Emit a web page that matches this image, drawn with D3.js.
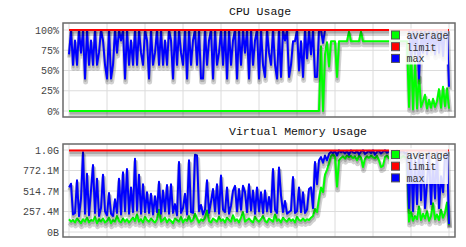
<!DOCTYPE html>
<html>
<head>
<meta charset="utf-8">
<script src="https://cdnjs.cloudflare.com/ajax/libs/d3/7.8.5/d3.min.js"></script>
<style>
  body { margin: 0; background: #fff; }
  svg { display: block; font-family: "Liberation Mono", "DejaVu Sans Mono", monospace; }
</style>
</head>
<body>
<svg id="chart" width="466" height="247"></svg>
<script>
// legend order
const seriesNames = ['average', 'limit', 'max'];

const cpuTicks = [0, 25, 50, 75, 100];
const cpuTickLabels = ['0%', '25%', '50%', '75%', '100%'];
const cpuLimit = 100;

// percent, one sample per time step
const cpuAverage = [
  0, 0, 0, 0, 0, 0, 0, 0, 0, 0,
  0, 0, 0, 0, 0, 0, 0, 0, 0, 0,
  0, 0, 0, 0, 0, 0, 0, 0, 0, 0,
  0, 0, 0, 0, 0, 0, 0, 0, 0, 0,
  0, 0, 0, 0, 0, 0, 0, 0, 0, 0,
  0, 0, 0, 0, 0, 0, 0, 0, 0, 0,
  0, 0, 0, 0, 0, 0, 0, 0, 0, 0,
  0, 0, 0, 0, 0, 0, 0, 0, 0, 0,
  0, 0, 0, 0, 0, 0, 0, 0, 0, 0,
  0, 0, 0, 0, 0, 0, 0, 0, 0, 0,
  0, 0, 0, 0, 0, 0, 0, 0, 0, 0,
  0, 0, 0, 0, 0, 0, 0, 0, 0, 0,
  0, 0, 0, 0, 0, 0, 80, 0, 70, 85,
  55, 86, 86, 86, 42, 86, 86, 86, 86, 86,
  98, 86, 86, 86, 86, 86, 98, 86, 86, 86,
  86, 86, 86, 86, 86, 86, 86, 86, 86, 86,
  86, 86, 86, 86, 86, 86, 86, 86, 86, 86,
  5, 80, 2, 60, 3, 45, 5, 12, 20, 3,
  14, 4, 15, 5, 12, 27, 4, 30, 6, 28, 3
];
const cpuMax = [
  70, 100, 57, 87, 57, 100, 72, 100, 40, 100,
  57, 87, 57, 100, 57, 72, 100, 87, 57, 40,
  100, 40, 57, 100, 72, 100, 87, 100, 40, 100,
  57, 87, 57, 100, 57, 100, 72, 57, 100, 87,
  40, 100, 57, 72, 100, 57, 100, 57, 87, 57,
  100, 87, 40, 100, 57, 100, 72, 57, 100, 40,
  100, 57, 87, 100, 57, 100, 40, 40, 100, 57,
  87, 100, 40, 100, 57, 72, 100, 57, 100, 40,
  100, 57, 87, 100, 40, 100, 57, 100, 72, 100,
  40, 100, 57, 87, 100, 40, 100, 57, 42, 100,
  72, 57, 100, 57, 40, 100, 42, 100, 87, 100,
  42, 57, 86, 86, 100, 50, 86, 42, 100, 65,
  100, 70, 100, 42, 42, 100, 100, 84, 100, null,
  null, null, null, null, null, null, null, null, null, null,
  null, null, null, null, null, null, null, null, null, null,
  null, null, null, null, null, null, null, null, null, null,
  null, null, null, null, null, null, null, null, null, null,
  100, 68, 100, 70, 100, 40, 100, 72, 100, 70,
  100, 75, 100, 70, 100, 72, 100, 68, 100, 100, 30
];

// megabytes
const memTicks = [0, 257.37, 514.74, 772.11, 1029.48];
const memTickLabels = ['0B', '257.4M', '514.7M', '772.1M', '1.0G'];
const memLimit = 1024;

const memAverage = [
  160, 130, 150, 120, 170, 140, 110, 160, 130, 180,
  120, 150, 140, 190, 110, 160, 130, 170, 120, 140,
  180, 110, 150, 130, 200, 140, 120, 170, 130, 160,
  120, 150, 180, 140, 220, 130, 160, 120, 190, 150,
  130, 170, 140, 120, 160, 280, 130, 150, 180, 120,
  160, 140, 110, 170, 150, 130, 190, 120, 160, 140,
  200, 130, 150, 230, 170, 120, 160, 140, 180, 270,
  140, 120, 170, 150, 130, 190, 140, 160, 120, 180,
  150, 130, 210, 140, 160, 120, 180, 250, 130, 150,
  170, 140, 120, 190, 150, 130, 160, 200, 140, 120,
  170, 150, 130, 220, 140, 160, 120, 180, 150, 130,
  170, 140, 160, 120, 190, 150, 140, 170, 140, 160,
  150, 180, 200, 290, 250, 420, 560, 500, 720, 780,
  860, 950, 980, 940, 570, 900, 930, 950, 920, 960,
  940, 955, 925, 950, 900, 960, 935, 815, 920, 950,
  930, 960, 940, 925, 955, 900, 815, 830, 940, 960,
  925, 950, 935, 960, 920, 945, 930, 955, 940, 930,
  130, 250, 140, 200, 160, 320, 150, 230, 170, 260,
  140, 200, 360, 160, 220, 150, 280, 180, 240, 370, 90
];
const memMax = [
  560, 606, 220, 240, 650, 200, 420, 1000, 230, 730,
  210, 520, 840, 240, 670, 200, 300, 720, 260, 210,
  490, 230, 200, 410, 240, 670, 220, 750, 260, 790,
  230, 560, 250, 920, 270, 720, 230, 600, 250, 500,
  240, 480, 220, 450, 250, 630, 230, 520, 260, 590,
  230, 600, 240, 350, 210, 880, 240, 300, 480, 220,
  900, 250, 240, 970, 960, 260, 340, 220, 280, 650,
  240, 380, 540, 260, 600, 230, 710, 280, 250, 560,
  230, 330, 520, 580, 260, 540, 280, 580, 500, 250,
  600, 270, 520, 230, 560, 260, 500, 240, 520, 260,
  440, 250, 790, 280, 240, 810, 460, 250, 390, 230,
  250, 270, 690, 240, 260, 560, 250, 500, 240, 280,
  540, 560, 300, 880, 600, 900, 940, 870, 960, 900,
  980, 1010, 990, 1020, 960, 1025, 1000, 1015, 985, 1020,
  970, 1025, 1000, 990, 1020, 975, 1010, 1025, 980, 1000,
  1020, 990, 1025, 970, 1005, 1020, 985, 1010, 1025, 995,
  1015, 980, 1020, 1000, 1025, 990, 1010, 1020, 985, 1000,
  300, 980, 260, 900, 350, 1000, 400, 950, 300, 620,
  1000, 350, 850, 420, 1000, 300, 700, 500, 950, 1020, 100
];

const colors = { average: '#00ff00', limit: '#ff0000', max: '#0000ff' };
const svg = d3.select('#chart');

function drawPanel(cfg) {
  const n = cfg.average.length;
  const box = cfg.box; // [left, top, right, bottom]
  const g = svg.append('g');

  const x = d3.scaleLinear().domain([0, n - 1]).range([69, 449]);
  const y = d3.scaleLinear()
    .domain([0, cfg.ticks[cfg.ticks.length - 1]])
    .range([cfg.zeroY, cfg.topY]);

  // grid
  g.append('g').selectAll('line')
    .data(d3.range(0, n, 19))
    .enter().append('line')
    .attr('x1', function (d) { return x(d); })
    .attr('x2', function (d) { return x(d); })
    .attr('y1', box[1]).attr('y2', box[3])
    .attr('stroke', '#dcdcdc');
  g.append('g').selectAll('line')
    .data(cfg.ticks)
    .enter().append('line')
    .attr('x1', box[0]).attr('x2', box[2])
    .attr('y1', function (d) { return y(d); })
    .attr('y2', function (d) { return y(d); })
    .attr('stroke', '#dcdcdc');

  const clipId = 'clip-' + cfg.id;
  g.append('clipPath').attr('id', clipId)
    .append('rect')
    .attr('x', box[0] + 1).attr('y', box[1] + 1)
    .attr('width', box[2] - box[0] - 2).attr('height', box[3] - box[1] - 2);

  const plot = g.append('g').attr('clip-path', 'url(#' + clipId + ')');

  const line = d3.line()
    .defined(function (d) { return d[1] !== null; })
    .x(function (d) { return x(d[0]); })
    .y(function (d) { return y(d[1]); });

  const pairs = function (arr) { return arr.map(function (v, i) { return [i, v]; }); };
  const series = [
    { name: 'average', data: pairs(cfg.average) },
    { name: 'max', data: pairs(cfg.max) },
    { name: 'limit', data: [[0, cfg.limit], [n - 1, cfg.limit]] }
  ];

  // flot style: shadow then line, series by series
  const angle = Math.PI / 18;
  series.forEach(function (s) {
    [[3.5, 5], [2.25, 2.5]].forEach(function (sh) {
      plot.append('path')
        .datum(s.data)
        .attr('d', line)
        .attr('transform', 'translate(' + (Math.sin(angle) * sh[0]) + ',' + (Math.cos(angle) * sh[0]) + ')')
        .attr('fill', 'none')
        .attr('stroke', 'rgba(0,0,0,0.18)')
        .attr('stroke-width', sh[1])
        .attr('stroke-linejoin', 'round');
    });
    plot.append('path')
      .datum(s.data)
      .attr('d', line)
      .attr('fill', 'none')
      .attr('stroke', colors[s.name])
      .attr('stroke-width', 2)
      .attr('stroke-linejoin', 'round');
  });

  // frame
  g.append('rect')
    .attr('x', box[0]).attr('y', box[1])
    .attr('width', box[2] - box[0]).attr('height', box[3] - box[1])
    .attr('fill', 'none')
    .attr('stroke', '#6a6a6a')
    .attr('stroke-width', 1.5);

  // y axis labels
  const axis = g.append('g')
    .attr('transform', 'translate(' + box[0] + ',0)')
    .call(d3.axisLeft(y)
      .tickValues(cfg.ticks)
      .tickFormat(function (d, i) { return cfg.tickLabels[i]; })
      .tickSize(0)
      .tickPadding(4));
  axis.select('.domain').remove();
  axis.selectAll('text')
    .attr('fill', '#444')
    .style('font-family', '"Liberation Mono", monospace')
    .style('font-size', '10px');

  g.append('text')
    .attr('x', 229).attr('y', cfg.titleY)
    .attr('fill', '#111')
    .style('font-size', '11.5px')
    .text(cfg.title);

  // legend
  const legend = g.append('g').attr('transform', 'translate(389,' + cfg.legendY + ')');
  legend.append('rect')
    .attr('width', 59).attr('height', 36)
    .attr('fill', '#fff').attr('opacity', 0.85);
  seriesNames.forEach(function (name, k) {
    const row = legend.append('g').attr('transform', 'translate(2,' + (2 + k * 11.7) + ')');
    row.append('rect')
      .attr('x', 0.5).attr('y', 0.5)
      .attr('width', 8).attr('height', 8)
      .attr('fill', colors[name])
      .attr('stroke', '#555');
    row.append('text')
      .attr('x', 15.5).attr('y', 8.5)
      .attr('fill', '#333')
      .style('font-size', '10px')
      .text(name);
  });
}

drawPanel({
  id: 'cpu', title: 'CPU Usage', titleY: 15,
  box: [63, 23, 455, 117], zeroY: 111, topY: 30, legendY: 28.5,
  ticks: cpuTicks, tickLabels: cpuTickLabels,
  average: cpuAverage, max: cpuMax, limit: cpuLimit
});

drawPanel({
  id: 'mem', title: 'Virtual Memory Usage', titleY: 135,
  box: [63, 144, 455, 237], zeroY: 232, topY: 150, legendY: 148,
  ticks: memTicks, tickLabels: memTickLabels,
  average: memAverage, max: memMax, limit: memLimit
});
</script>
</body>
</html>
